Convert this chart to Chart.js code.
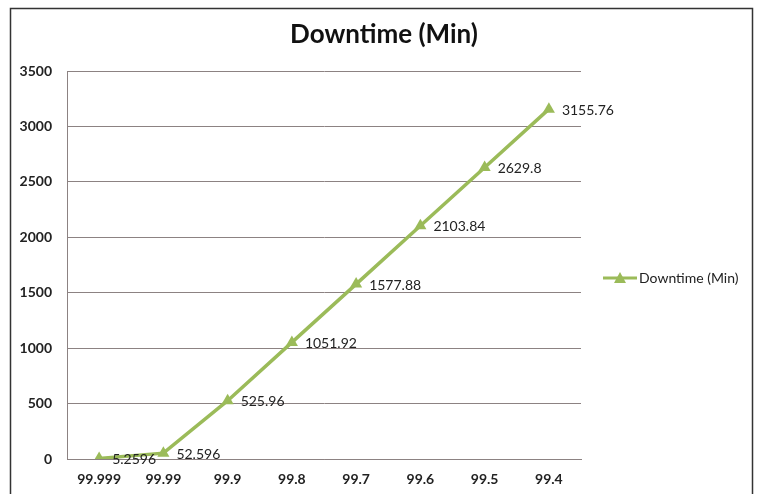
<!DOCTYPE html>
<html>
<head>
<meta charset="utf-8">
<script src="https://cdn.jsdelivr.net/npm/chart.js@4.4.0/dist/chart.umd.min.js"></script>
<style>
  html, body { margin: 0; padding: 0; background: #fff; }
  #wrap { width: 759px; height: 494px; position: relative; }
</style>
</head>
<body>
<div id="wrap"><canvas id="chart" width="759" height="494"></canvas></div>
<script>
'use strict';

/* ── Data ─────────────────────────────────────────────── */
const availability = ['99.999', '99.99', '99.9', '99.8', '99.7', '99.6', '99.5', '99.4'];
const downtimeMin  = [5.2596, 52.596, 525.96, 1051.92, 1577.88, 2103.84, 2629.8, 3155.76];
const dataLabels   = ['5.2596', '52.596', '525.96', '1051.92', '1577.88', '2103.84', '2629.8', '3155.76'];
const yTicks       = [0, 500, 1000, 1500, 2000, 2500, 3000, 3500];

const GREEN = '#9bbb59';
const FONT  = 'Lato, "Open Sans", sans-serif';

/* ── Frame, title, labels, legend ─────────────────────── */
const decorPlugin = {
  id: 'decor',
  afterDraw(chart) {
    const { ctx } = chart;
    ctx.save();

    // outer frame
    ctx.strokeStyle = '#333';
    ctx.lineWidth = 1.5;
    ctx.strokeRect(10.5, 8.5, 742, 500);

    // title
    ctx.fillStyle = '#111';
    ctx.font = 'bold 26px ' + FONT;
    ctx.textAlign = 'center';
    ctx.textBaseline = 'middle';
    ctx.fillText('Downtime (Min)', 384, 35);

    // point labels
    const meta = chart.getDatasetMeta(0);
    ctx.font = '14px ' + FONT;
    ctx.textAlign = 'left';
    ctx.fillStyle = '#222';
    meta.data.forEach((pt, i) => {
      ctx.fillText(dataLabels[i], pt.x + 13, pt.y + 1);
    });

    // legend
    const ly = 278;
    ctx.strokeStyle = GREEN;
    ctx.lineWidth = 3;
    ctx.beginPath();
    ctx.moveTo(603, ly);
    ctx.lineTo(637, ly);
    ctx.stroke();
    ctx.fillStyle = GREEN;
    ctx.beginPath();
    ctx.moveTo(620, ly - 6);
    ctx.lineTo(626, ly + 5);
    ctx.lineTo(614, ly + 5);
    ctx.closePath();
    ctx.fill();
    ctx.fillStyle = '#222';
    ctx.font = '14px ' + FONT;
    ctx.textAlign = 'left';
    ctx.fillText('Downtime (Min)', 639, ly);

    ctx.restore();
  }
};

new Chart(document.getElementById('chart'), {
  type: 'line',
  data: {
    labels: availability,
    datasets: [{
      label: 'Downtime (Min)',
      data: downtimeMin,
      borderColor: GREEN,
      backgroundColor: GREEN,
      borderWidth: 3.5,
      pointStyle: 'triangle',
      pointRadius: 7,
      pointBorderWidth: 0,
      tension: 0,
    }],
  },
  options: {
    responsive: false,
    animation: false,
    layout: { padding: { top: 71, right: 178, left: 0, bottom: 0 } },
    plugins: {
      legend: { display: false },
      title: { display: false },
      tooltip: { enabled: false },
    },
    scales: {
      x: {
        offset: true,
        grid: { display: false, drawTicks: false },
        border: { color: '#8c8282', width: 1 },
        ticks: { color: '#222', font: { family: FONT, size: 14, weight: 'bold' }, padding: 12 },
        afterFit: s => { s.height = 35; },
      },
      y: {
        min: 0, max: 3500,
        afterBuildTicks: s => { s.ticks = yTicks.map(v => ({ value: v })); },
        grid: { color: '#8c8282', lineWidth: 1, drawTicks: false },
        border: { color: '#8c8282', width: 1 },
        ticks: {
          color: '#222', font: { family: FONT, size: 14, weight: 'bold' }, padding: 15,
          callback: v => String(v),
        },
        afterFit: s => { s.width = 67; },
      },
    },
  },
  plugins: [decorPlugin],
});
</script>
</body>
</html>
